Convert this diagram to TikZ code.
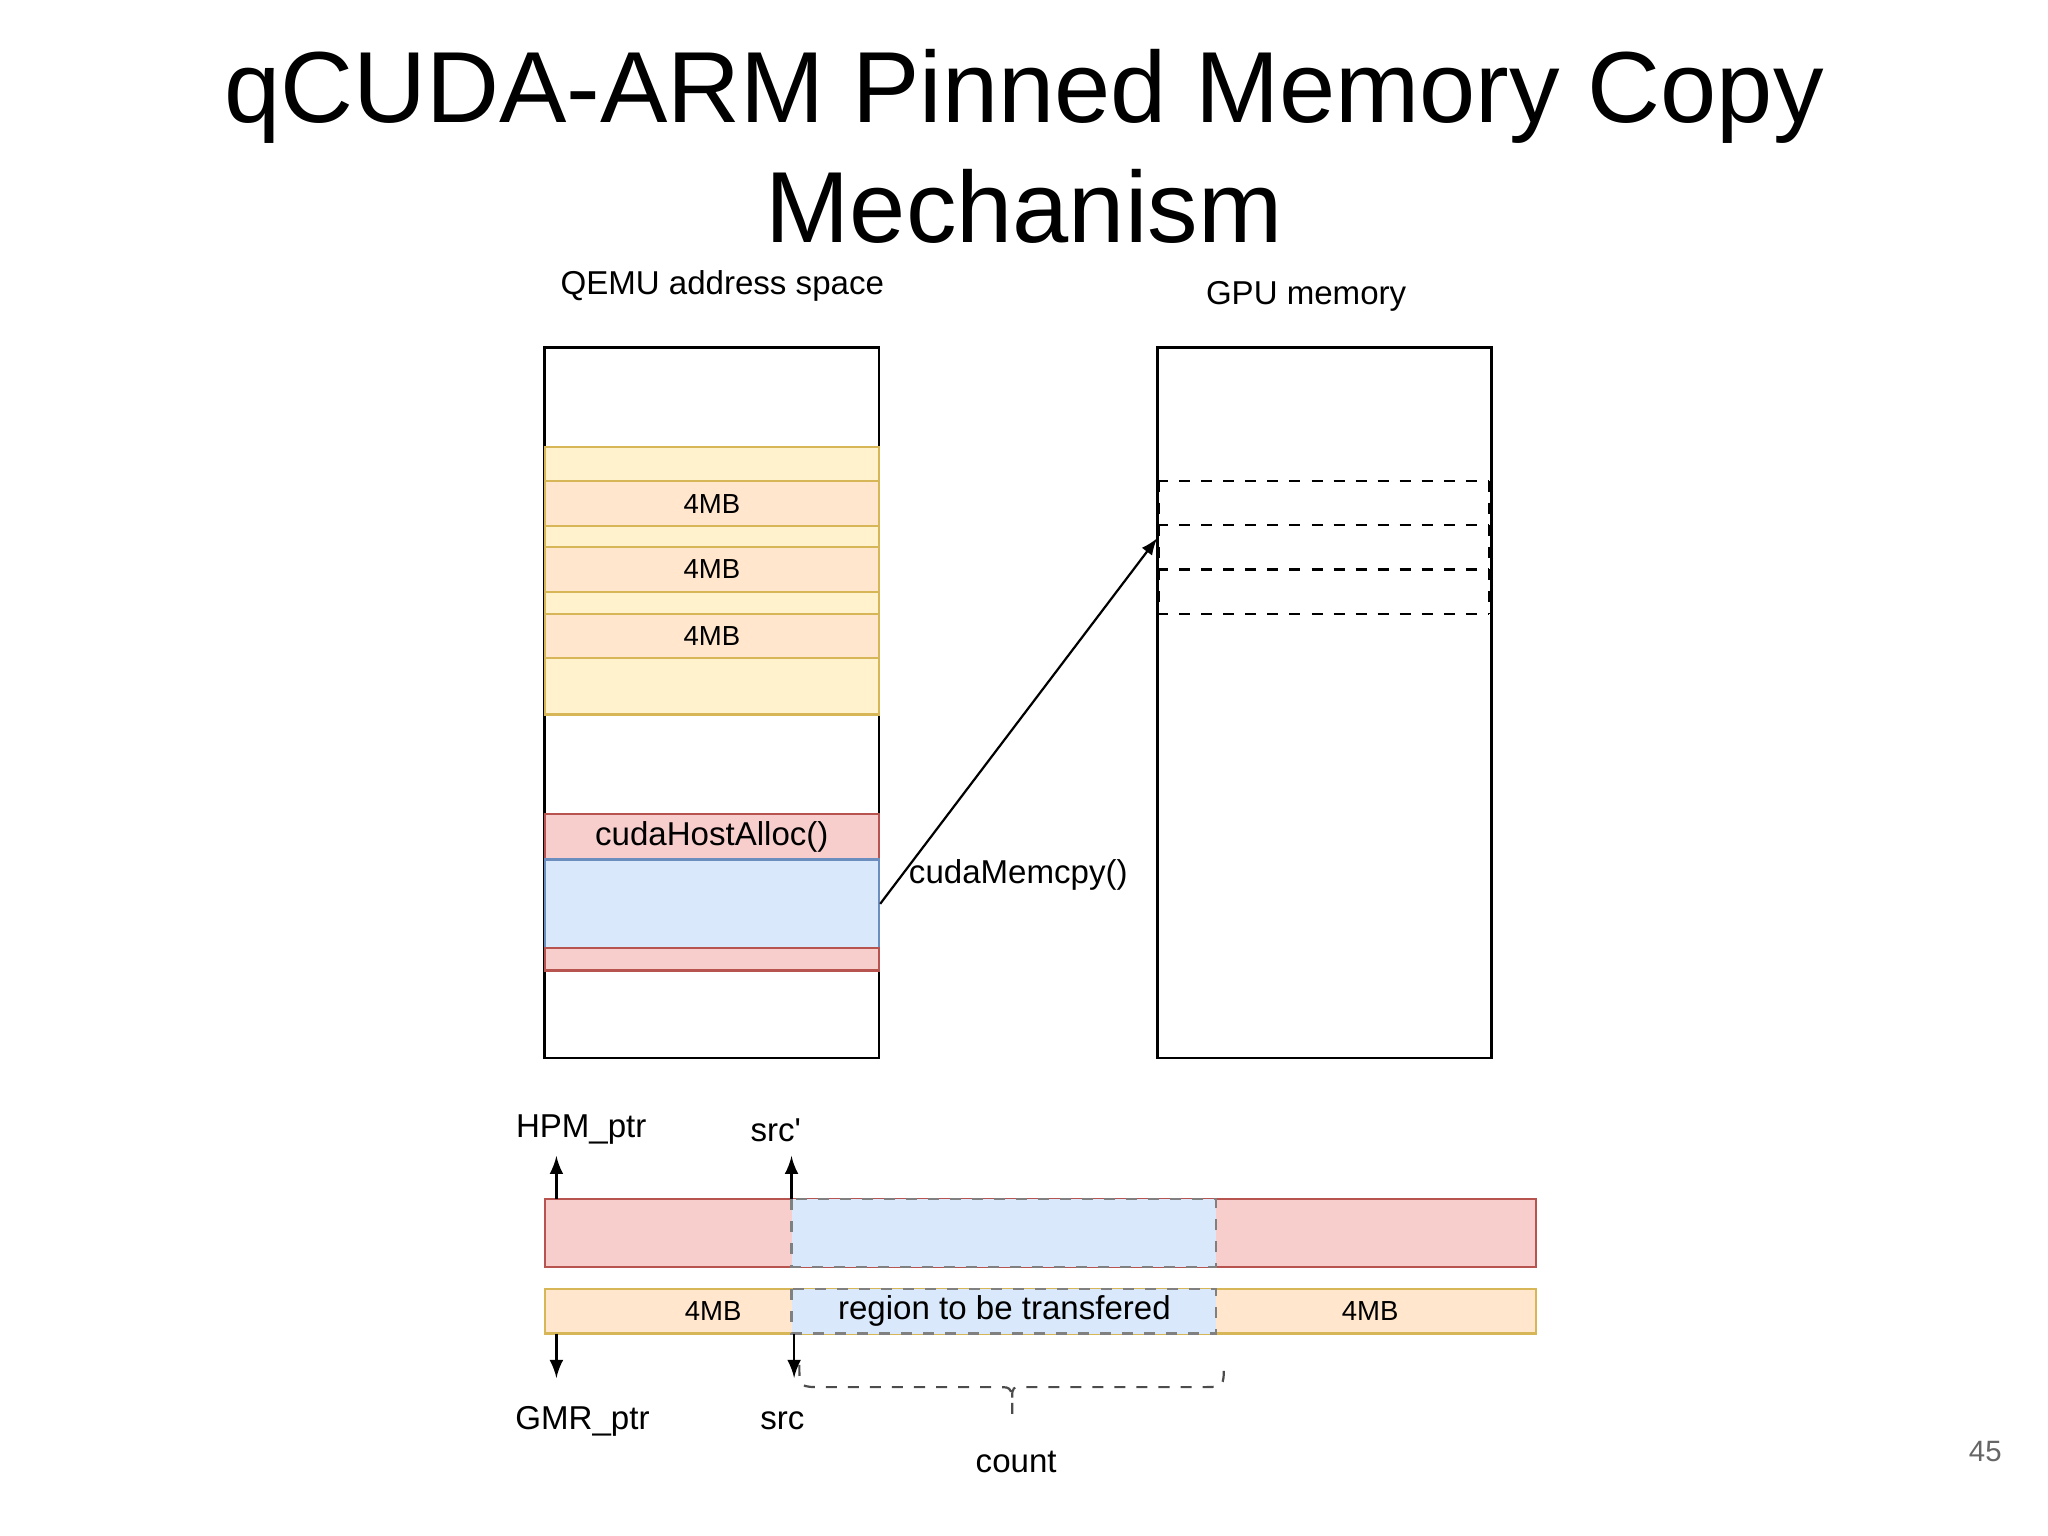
\documentclass[tikz,border=0pt]{standalone}
\usepackage{fontspec}
\setmainfont{Liberation Sans}
\definecolor{yfill}{HTML}{FFF2CC}\definecolor{ydraw}{HTML}{D6B656}
\definecolor{ofill}{HTML}{FFE6CC}\definecolor{odraw}{HTML}{D6B656}
\definecolor{pfill}{HTML}{F8CECC}\definecolor{pdraw}{HTML}{B85450}
\definecolor{bfill}{HTML}{DAE8FC}\definecolor{bdraw}{HTML}{6C8EBF}
\begin{document}
\begin{tikzpicture}[x=0.0125cm,y=-0.0125cm,
 yel/.style={draw=ydraw,fill=yfill,line width=0.6pt},
 org/.style={draw=odraw,fill=ofill,line width=0.6pt},
 pnk/.style={draw=pdraw,fill=pfill,line width=0.6pt},
 blu/.style={draw=bdraw,fill=bfill,line width=0.6pt},
 lbl/.style={font=\fontsize{9}{11}\selectfont},
 sml/.style={font=\fontsize{7.5}{9}\selectfont},
 arr/.style={-latex,line width=0.7pt}]
\useasboundingbox (0,0) rectangle (1568,1176);
\node[font=\fontsize{27.5}{32.5}\selectfont,align=center] (title) at (784,112) {qCUDA-ARM Pinned Memory Copy\\Mechanism};
\node[lbl] (qlab) at (553,219) {QEMU address space};
\node[lbl] (glab) at (1000,227) {GPU memory};
% left box
\draw[line width=0.7pt] (417,266) rectangle (673,810);
\draw[yel] (417,342) rectangle (673,547);
\node[org,sml,minimum width=3.2cm,minimum height=0.425cm,inner sep=0] (m1) at (545,385.5) {4MB};
\node[org,sml,minimum width=3.2cm,minimum height=0.425cm,inner sep=0] (m2) at (545,436) {4MB};
\node[org,sml,minimum width=3.2cm,minimum height=0.425cm,inner sep=0] (m3) at (545,487) {4MB};
\node[pnk,lbl,minimum width=3.2cm,minimum height=0.4375cm,inner sep=0] (ha) at (545,640.5) {cudaHostAlloc()};
\node[blu,minimum width=3.2cm,minimum height=0.85cm,inner sep=0] (bl) at (545,692) {};
\draw[pnk] (417,726) rectangle (673,743);
% right box
\draw[line width=0.7pt] (886,266) rectangle (1142,810);
\draw[dashed,line width=0.6pt] (886,368) -- (1140,368) (886,402) -- (1140,402) (886,436) -- (1140,436) (886,470) -- (1140,470) (1140,368) -- (1140,470) (887,368) -- (887,470);
\coordinate (tgt) at (886,412);
\draw[-latex,line width=0.6pt] (bl.east) -- (tgt);
\node[lbl,anchor=west] (cm) at (686,670) {cudaMemcpy()};
% bottom bars
\draw[pnk] (417,918) rectangle (1176,970);
\draw[blu,dashed,draw=gray] (606,918) rectangle (931,970);
\draw[org] (417,987) rectangle (1176,1021);
\draw[blu,dashed,draw=gray] (606,987) rectangle (931,1021);
\node[sml] (b1) at (546,1004) {4MB};
\node[sml] (b2) at (1049,1004) {4MB};
\node[lbl] (rt) at (769,1004) {region to be transfered};
\node[lbl] (hpm) at (445,865) {HPM\_ptr};
\node[lbl] (srcp) at (594,865) {src\textquotesingle};
\node[lbl] (gmr) at (446,1088) {GMR\_ptr};
\node[lbl] (src) at (599,1088) {src};
\node[lbl] (cnt) at (778,1119) {count};
\node[font=\fontsize{8}{10}\selectfont,text=gray!80!black] (pg) at (1520,1111) {45};
\coordinate (u1a) at (426,918); \coordinate (u1b) at (426,885);
\coordinate (u2a) at (606,918); \coordinate (u2b) at (606,885);
\coordinate (d1a) at (426,1021); \coordinate (d1b) at (426,1055);
\coordinate (d2a) at (608,1021); \coordinate (d2b) at (608,1055);
\draw[arr] (u1a) -- (u1b);
\draw[arr] (u2a) -- (u2b);
\draw[arr] (d1a) -- (d1b);
\draw[arr] (d2a) -- (d2b);
\draw[dashed,line width=0.6pt,gray!60!black] (612,1045) .. controls (612,1062) .. (630,1062) -- (765,1062) .. controls (775,1062) .. (775,1085) (775,1070) .. controls (775,1062) .. (785,1062) -- (920,1062) .. controls (937,1062) .. (937,1045);
\end{tikzpicture}
\end{document}
